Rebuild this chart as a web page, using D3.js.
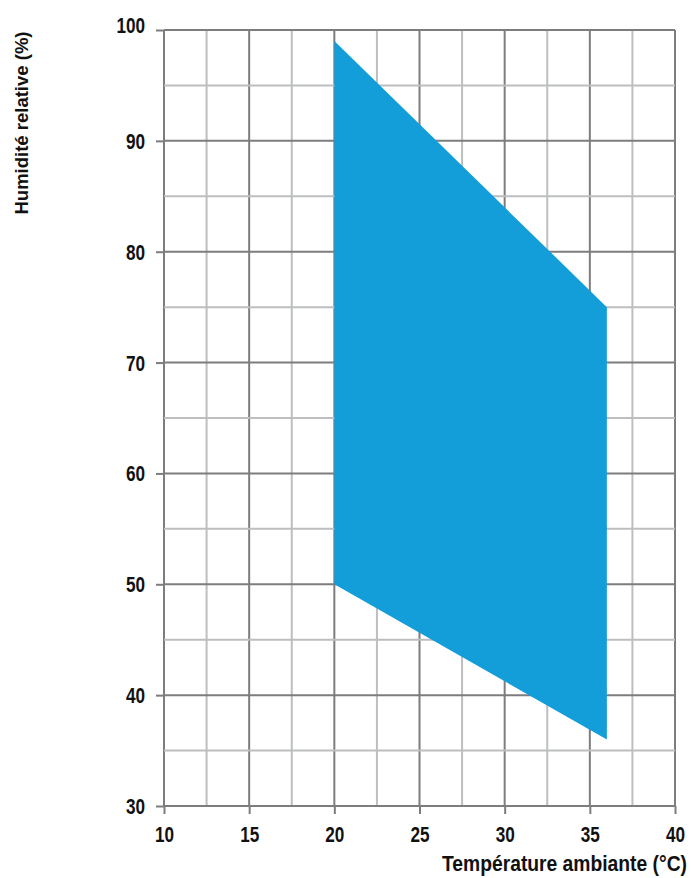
<!DOCTYPE html>
<html>
<head>
<meta charset="utf-8">
<script src="https://cdn.jsdelivr.net/npm/d3@7"></script>
<style>
    body { margin: 0; background: #fff; }
    .tick text { font-family: "Liberation Sans", Arial, sans-serif; font-weight: bold; font-size: 22px; fill: #111; }
</style>
</head>
<body>
<div id="chart"></div>
<script>
// zone de fonctionnement (température / humidité)
const temperature = [20, 36, 36, 20]
const humidite = [99, 75, 36, 50]

const xTicks = [10, 15, 20, 25, 30, 35, 40]
const yTicks = [30, 40, 50, 60, 70, 80, 90, 100]
const xGrid = [10, 12.5, 15, 17.5, 20, 22.5, 25, 27.5, 30, 32.5, 35, 37.5, 40]
const yGrid = [30, 35, 40, 45, 50, 55, 60, 65, 70, 75, 80, 85, 90, 95, 100]

const width = 691
const height = 878
const margin = { top: 30, bottom: 72, right: 16, left: 164 }
const innerW = width - margin.left - margin.right
const innerH = height - margin.top - margin.bottom
const narrow = 0.78   // police condensée simulée

const svg = d3.select("div#chart").append("svg").attr("width", width).attr("height", height)
const g = svg.append("g").attr("transform", `translate(${margin.left}, ${margin.top})`)

const x = d3.scaleLinear().domain([10, 40]).range([0, innerW])
const y = d3.scaleLinear().domain([30, 100]).range([innerH, 0])

// grille
const grid = g.append("g").attr("class", "grid")
grid.selectAll("line.v").data(xGrid).enter().append("line")
    .attr("x1", d => x(d)).attr("x2", d => x(d))
    .attr("y1", 0).attr("y2", innerH)
    .attr("stroke", d => d % 5 === 0 ? "#7d7d7d" : "#bcbec0")
    .attr("stroke-width", 2)
grid.selectAll("line.h").data(yGrid).enter().append("line")
    .attr("x1", 0).attr("x2", innerW)
    .attr("y1", d => y(d)).attr("y2", d => y(d))
    .attr("stroke", d => d % 10 === 0 ? "#7d7d7d" : "#bcbec0")
    .attr("stroke-width", 2)

// zone
const pts = temperature.map((t, i) => [x(t), y(humidite[i])])
g.append("path")
    .attr("d", d3.line()(pts) + "Z")
    .attr("fill", "#149ed9")

// axes
const xAxis = d3.axisBottom(x).tickValues(xTicks).tickSize(8).tickPadding(12)
const yAxis = d3.axisLeft(y).tickValues(yTicks).tickSize(8).tickPadding(11)

const xAxisGroup = g.append("g").attr("transform", `translate(0, ${innerH})`).call(xAxis)
const yAxisGroup = g.append("g").call(yAxis)
xAxisGroup.select(".domain").remove()
yAxisGroup.select(".domain").remove()
svg.selectAll(".tick line").attr("stroke", "#7d7d7d").attr("stroke-width", 2)

xAxisGroup.selectAll(".tick text").attr("transform", `scale(${narrow},1)`)
yAxisGroup.selectAll(".tick text")
    .attr("x", -19 / narrow)
    .attr("transform", `scale(${narrow},1)`)
    .attr("dy", d => d === 100 ? "0.12em" : "0.34em")

// titres
svg.append("text")
    .attr("x", 687).attr("y", 871)
    .attr("text-anchor", "end")
    .attr("textLength", 245).attr("lengthAdjust", "spacingAndGlyphs")
    .style("font-family", "'Liberation Sans', Arial, sans-serif")
    .style("font-weight", "bold").style("font-size", "22px").attr("fill", "#111")
    .text("Température ambiante (°C)")

svg.append("text")
    .attr("transform", "translate(28, 123) rotate(-90)")
    .attr("text-anchor", "middle")
    .style("font-family", "'Liberation Sans', Arial, sans-serif")
    .style("font-weight", "bold").style("font-size", "18.5px").attr("fill", "#111")
    .text("Humidité relative (%)")
</script>
</body>
</html>
